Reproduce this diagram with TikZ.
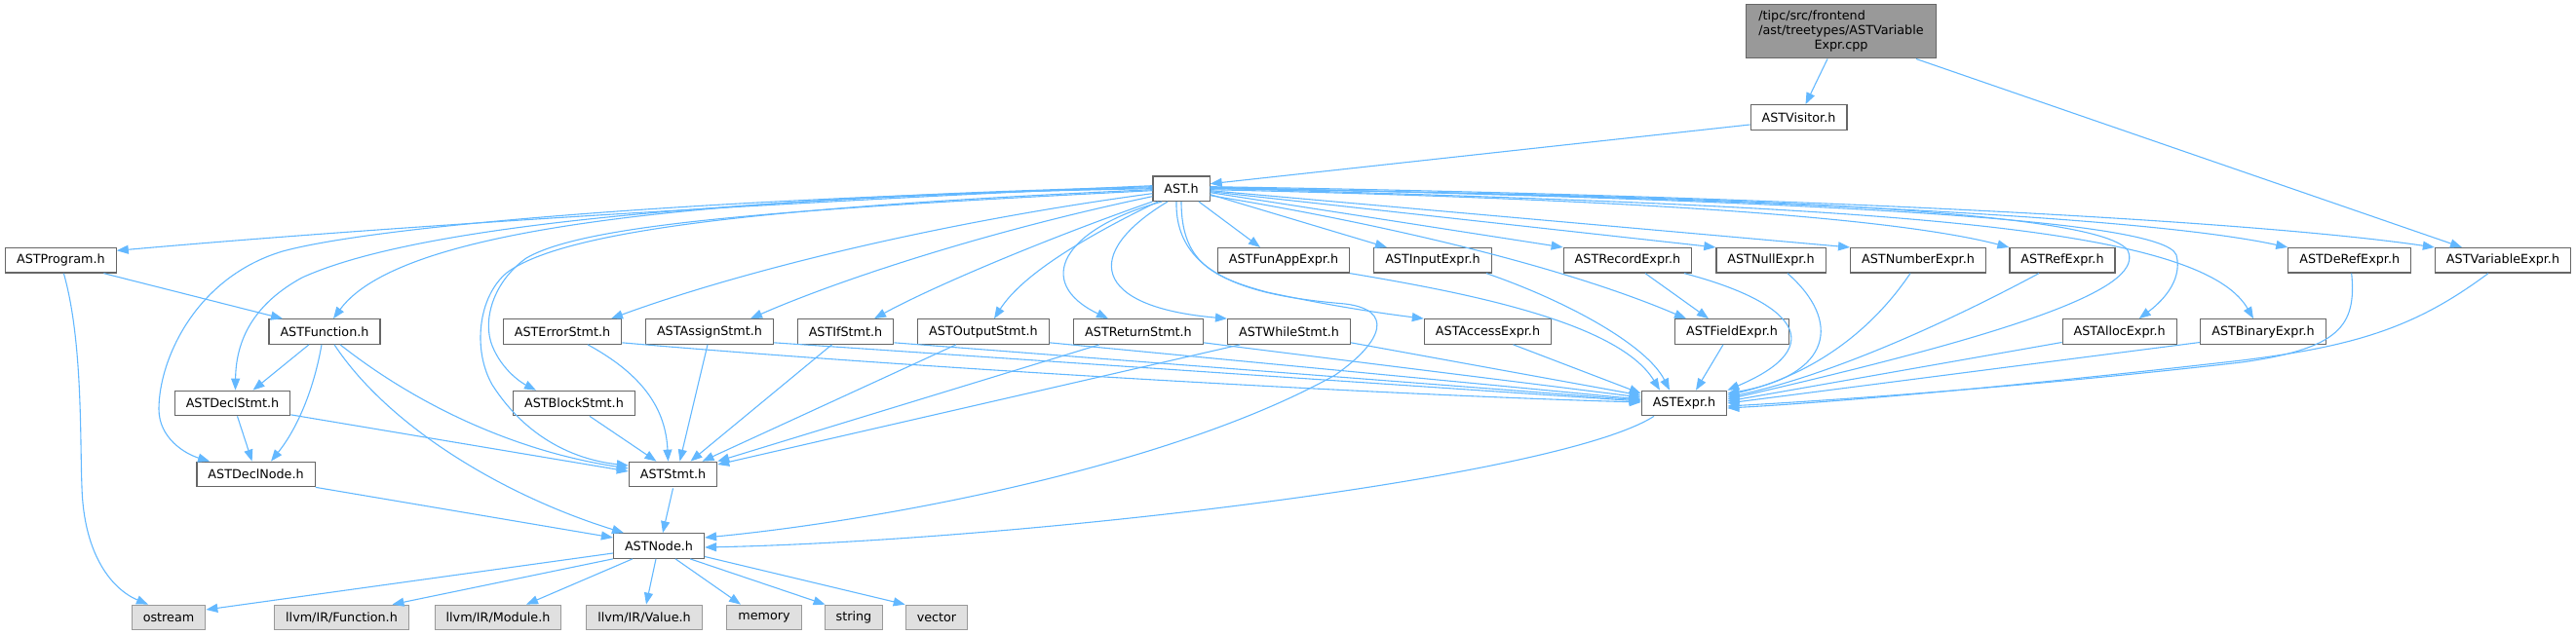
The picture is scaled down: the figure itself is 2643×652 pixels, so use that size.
\documentclass[tikz,border=0pt]{standalone}
\usepackage{fontspec}
\newfontfamily\dvs{DejaVu Sans}
\usetikzlibrary{arrows.meta}
\definecolor{edgeblue}{HTML}{63B8FF}
\definecolor{bordergray}{HTML}{666666}
\definecolor{sysborder}{HTML}{999999}
\definecolor{sysfill}{HTML}{E0E0E0}
\definecolor{topfill}{HTML}{999999}
\tikzset{
  hdr/.style={draw=bordergray, fill=white, line width=1.2pt, minimum height=25.5pt,
    inner xsep=11.5pt, inner ysep=0pt, font=\dvs\fontsize{12.75}{15}\selectfont},
  sysh/.style={hdr, draw=sysborder, fill=sysfill},
  mainh/.style={hdr, fill=topfill, minimum width=195pt, minimum height=55pt},
  dep/.style={draw=edgeblue, line width=1.1pt, -{Triangle[length=12pt,width=9pt]}},
}
\begin{document}
\begin{tikzpicture}[x=1pt,y=-1pt]
\useasboundingbox (0,0) rectangle (2643,652);
% nodes
\node[mainh] (top) at (1889,32.4) {\begin{tabular}{@{}l@{}}/tipc/src/frontend\\/ast/treetypes/ASTVariable\\\multicolumn{1}{@{}c@{}}{Expr.cpp}\end{tabular}};
\node[hdr] (vis) at (1845.5,120.5) {ASTVisitor.h};
\node[hdr] (ast) at (1212,193.7) {AST.h};
\node[hdr] (prog) at (62.4,267.3) {ASTProgram.h};
\node[hdr] (funapp) at (1317,267.3) {ASTFunAppExpr.h};
\node[hdr] (input) at (1470,267.3) {ASTInputExpr.h};
\node[hdr] (record) at (1670,267.3) {ASTRecordExpr.h};
\node[hdr] (null) at (1817,267.3) {ASTNullExpr.h};
\node[hdr] (number) at (1968,267.3) {ASTNumberExpr.h};
\node[hdr] (ref) at (2116,267.3) {ASTRefExpr.h};
\node[hdr] (deref) at (2410.7,267.3) {ASTDeRefExpr.h};
\node[hdr] (var) at (2568,267.3) {ASTVariableExpr.h};
\node[hdr] (func) at (333,340.5) {ASTFunction.h};
\node[hdr] (err) at (577,340.5) {ASTErrorStmt.h};
\node[hdr] (assign) at (728,340.5) {ASTAssignStmt.h};
\node[hdr] (if) at (867.5,340.5) {ASTIfStmt.h};
\node[hdr] (output) at (1009,340.5) {ASTOutputStmt.h};
\node[hdr] (ret) at (1168,340.5) {ASTReturnStmt.h};
\node[hdr] (while) at (1322.5,340.5) {ASTWhileStmt.h};
\node[hdr] (access) at (1526.5,340.5) {ASTAccessExpr.h};
\node[hdr] (field) at (1777,340.5) {ASTFieldExpr.h};
\node[hdr] (alloc) at (2174.7,340.5) {ASTAllocExpr.h};
\node[hdr] (binary) at (2322,340.5) {ASTBinaryExpr.h};
\node[hdr] (declstmt) at (238.5,414) {ASTDeclStmt.h};
\node[hdr] (block) at (589,414) {ASTBlockStmt.h};
\node[hdr] (expr) at (1728,414) {ASTExpr.h};
\node[hdr] (declnode) at (262.6,487) {ASTDeclNode.h};
\node[hdr] (stmt) at (690.5,487) {ASTStmt.h};
\node[hdr] (astnode) at (676,560.5) {ASTNode.h};
\node[sysh] (ostream) at (173,634) {ostream};
\node[sysh] (lfunc) at (350.5,634) {llvm/IR/Function.h};
\node[sysh] (lmod) at (511,634) {llvm/IR/Module.h};
\node[sysh] (lval) at (661,634) {llvm/IR/Value.h};
\node[sysh] (memory) at (784,634) {memory};
\node[sysh] (string) at (876,634) {string};
\node[sysh] (vector) at (961,634) {vector};
% top edges
\draw[dep] ([xshift=-14pt]top.south) -- ([xshift=7pt]vis.north);
\draw[dep] ([xshift=77pt]top.south) -- ([xshift=-42pt]var.north);
\draw[dep] ([yshift=-7.5pt]vis.west) -- ([yshift=5pt]ast.east);
% AST.h fan, left side
\draw[dep] ([yshift=3pt]ast.west) .. controls (900,203) and (450,228) .. ([yshift=10pt]prog.east);
\draw[dep] ([yshift=2pt]ast.west) .. controls (750,203) and (415,228) .. ([xshift=9pt]func.north);
\draw[dep] ([yshift=1pt]ast.west) .. controls (700,205) and (420,235) .. (310,285) .. controls (255,315) and (242,355) .. ([xshift=3pt]declstmt.north);
\draw[dep] (ast.west) .. controls (800,200) and (400,228) .. (290,258) .. controls (200,285) and (163,370) .. (163,420) .. controls (163,450) and (190,466) .. ([xshift=-47.5pt]declnode.north);
\draw[dep] ([yshift=-1pt]ast.west) .. controls (800,212) and (580,235) .. (520,280) .. controls (490,305) and (485,360) .. (505,395) .. controls (540,450) and (590,472) .. ([yshift=9pt]stmt.west);
\draw[dep] ([yshift=-2pt]ast.west) .. controls (800,215) and (600,230) .. (540,265) .. controls (505,290) and (495,330) .. (505,355) .. controls (515,380) and (535,393) .. ([xshift=-39pt]block.north);
\draw[dep] ([yshift=-5pt]ast.west) .. controls (950,230) and (750,282) .. ([xshift=50pt]err.north);
\draw[dep] ([yshift=-8pt]ast.west) .. controls (1000,240) and (850,292) .. ([xshift=42pt]assign.north);
\draw[dep] (ast.south west) .. controls (1060,250) and (950,298) .. ([xshift=29.5pt]if.north);
\draw[dep] ([xshift=-24pt]ast.south) .. controls (1120,240) and (1050,280) .. ([xshift=11pt]output.north);
\draw[dep] ([xshift=-20pt]ast.south) .. controls (1090,235) and (1060,290) .. ([xshift=-31pt]ret.north);
\draw[dep] ([xshift=-14pt]ast.south) .. controls (1110,260) and (1120,315) .. (while.north west);
\draw[dep] ([xshift=0pt]ast.south) .. controls (1212,270) and (1245,285) .. (1300,300) .. controls (1370,315) and (1420,322) .. (access.north west);
\draw[dep] ([xshift=-5pt]ast.south) .. controls (1205,290) and (1300,305) .. (1380,312) .. controls (1430,318) and (1420,350) .. (1370,385) .. controls (1200,480) and (900,535) .. ([yshift=8.5pt]astnode.east);
% AST.h fan, right side
\draw[dep] ([xshift=18pt]ast.south) -- ([xshift=-24pt]funapp.north);
\draw[dep] ([yshift=-6pt]ast.east) -- ([xshift=-47pt]input.north);
\draw[dep] ([yshift=-4pt]ast.east) -- (record.north west);
\draw[dep] ([yshift=-7pt]ast.east) .. controls (1450,235) and (1620,280) .. ([xshift=-47pt]field.north);
\draw[dep] ([yshift=-3pt]ast.east) -- (null.north west);
\draw[dep] ([yshift=-2pt]ast.east) -- (number.north west);
\draw[dep] ([yshift=-1pt]ast.east) .. controls (1700,205) and (1950,225) .. (ref.north west);
\draw[dep] ([yshift=1pt]ast.east) .. controls (1800,203) and (2200,222) .. (deref.north west);
\draw[dep] ([yshift=2pt]ast.east) .. controls (1800,200) and (2300,225) .. (var.north west);
\draw[dep] (ast.east) .. controls (1700,200) and (2150,212) .. (2183,257) .. controls (2200,292) and (2100,335) .. ([yshift=4pt]expr.east);
\draw[dep] ([yshift=1.5pt]ast.east) .. controls (1800,205) and (2220,222) .. (2233,262) .. controls (2240,290) and (2215,312) .. ([xshift=20pt]alloc.north);
\draw[dep] ([yshift=0.5pt]ast.east) .. controls (1900,212) and (2255,228) .. ([xshift=-10pt]binary.north);
% left part
\draw[dep] ([xshift=44pt]prog.south) -- ([xshift=-43pt]func.north);
\draw[dep] ([xshift=3pt]prog.south) .. controls (85,350) and (82,450) .. (84,500) .. controls (86,570) and (115,605) .. ([xshift=-21pt]ostream.north);
\draw[dep] ([xshift=-16pt]func.south) -- ([xshift=21pt]declstmt.north);
\draw[dep] ([xshift=-3pt]func.south) .. controls (322,400) and (305,440) .. ([xshift=15.4pt]declnode.north);
\draw[dep] ([xshift=16pt]func.south) .. controls (420,410) and (520,462) .. ([yshift=6pt]stmt.west);
\draw[dep] ([xshift=10pt]func.south) .. controls (400,440) and (520,510) .. ([xshift=-36pt]astnode.north);
\draw[dep] ([xshift=5pt]declstmt.south) -- ([xshift=-4pt]declnode.north);
\draw[dep] ([yshift=1.5pt]declstmt.south east) -- ([yshift=3pt]stmt.west);
\draw[dep] (declnode.south east) -- ([yshift=8.5pt]astnode.west);
\draw[dep] ([xshift=16pt]block.south) -- ([xshift=-17pt]stmt.north);
\draw[dep] ([xshift=26pt]err.south) .. controls (660,385) and (683,420) .. ([xshift=-5pt]stmt.north);
\draw[dep] ([xshift=-2pt]assign.south) -- ([xshift=7pt]stmt.north);
\draw[dep] ([xshift=-14pt]if.south) -- ([xshift=18pt]stmt.north);
\draw[dep] ([xshift=-28pt]output.south) -- ([xshift=30pt]stmt.north);
\draw[dep] ([xshift=-40pt]ret.south) -- (stmt.north east);
\draw[dep] ([xshift=-50pt]while.south) -- ([yshift=10pt]stmt.east);
\draw[dep] ([yshift=-1pt]stmt.south) -- ([xshift=4pt]astnode.north);
% statements to ASTExpr
\draw[dep] ([yshift=2pt]err.south east) .. controls (900,375) and (1400,405) .. ([yshift=1pt]expr.west);
\draw[dep] ([yshift=2pt]assign.south east) -- ([yshift=2pt]expr.west);
\draw[dep] ([yshift=2pt]if.south east) -- ([yshift=3pt]expr.west);
\draw[dep] ([yshift=2pt]output.south east) -- ([yshift=4pt]expr.west);
\draw[dep] ([yshift=2pt]ret.south east) -- ([yshift=6pt]expr.west);
\draw[dep] ([yshift=2pt]while.south east) -- ([yshift=8pt]expr.west);
\draw[dep] ([xshift=26pt]access.south) -- ([yshift=10pt]expr.west);
\draw[dep] (funapp.south east) .. controls (1500,300) and (1660,330) .. ([xshift=-25pt]expr.north);
\draw[dep] ([xshift=55pt]input.south) .. controls (1610,310) and (1690,355) .. ([xshift=-15pt]expr.north);
% expressions to ASTExpr
\draw[dep] ([xshift=18pt]record.south) -- ([xshift=-24pt]field.north);
\draw[dep] ([xshift=58pt]record.south) .. controls (1840,310) and (1880,355) .. (expr.north east);
\draw[dep] ([xshift=-9pt]field.south) -- ([xshift=12pt]expr.north);
\draw[dep] ([xshift=17pt]null.south) .. controls (1890,330) and (1880,385) .. ([yshift=10pt]expr.east);
\draw[dep] ([xshift=-8pt]number.south) .. controls (1920,340) and (1860,385) .. ([yshift=8pt]expr.east);
\draw[dep] ([xshift=-24pt]ref.south) .. controls (2000,330) and (1880,385) .. ([yshift=6pt]expr.east);
\draw[dep] ([yshift=-11pt]alloc.west) -- ([yshift=2pt]expr.east);
\draw[dep] ([yshift=-11pt]binary.west) -- (expr.east);
\draw[dep] ([xshift=2pt]deref.south) .. controls (2418,335) and (2400,358) .. (2300,372) .. controls (2100,395) and (1900,410) .. ([yshift=-3pt]expr.east);
\draw[dep] ([xshift=-15pt]var.south) .. controls (2480,335) and (2420,355) .. (2300,370) .. controls (2100,393) and (1900,412) .. ([yshift=-5pt]expr.east);
\draw[dep] ([xshift=-31pt]expr.south) .. controls (1600,490) and (1050,555) .. ([yshift=-1.5pt]astnode.east);
% ASTNode.h to system headers
\draw[dep] ([yshift=-7.5pt]astnode.west) -- ([yshift=8pt]ostream.east);
\draw[dep] (astnode.south west) -- ([xshift=52pt]lfunc.north);
\draw[dep] ([xshift=-27pt]astnode.south) -- ([xshift=29pt]lmod.north);
\draw[dep] ([xshift=-3pt]astnode.south) -- ([xshift=2pt]lval.north);
\draw[dep] ([xshift=17pt]astnode.south) -- ([xshift=-24pt]memory.north);
\draw[dep] ([xshift=32pt]astnode.south) -- ([xshift=1pt]string.north west);
\draw[dep] ([yshift=-11pt]astnode.east) -- (vector.north west);
\end{tikzpicture}
\end{document}
